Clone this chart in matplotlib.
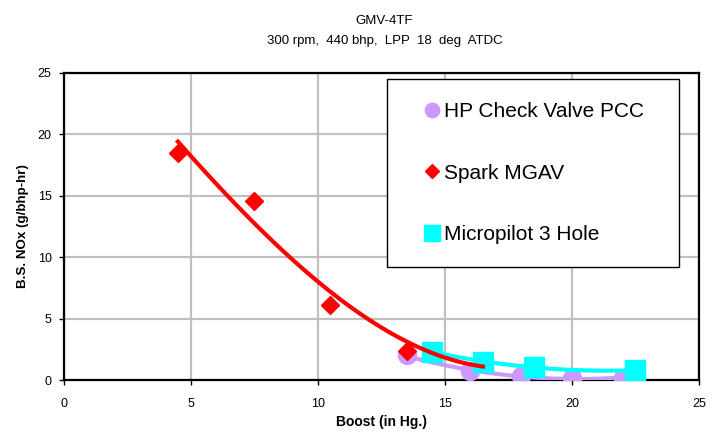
import numpy as np
import matplotlib
matplotlib.use("Agg")
import matplotlib.pyplot as plt

plt.rcParams['font.family'] = ['Liberation Sans', 'DejaVu Sans']

# measured points
hp_x = [13.5, 16.0, 18.0, 20.0, 22.0]
hp_y = [2.0, 0.7, 0.3, 0.2, 0.15]

spark_x = [4.5, 7.5, 10.5, 13.5]
spark_y = [18.5, 14.6, 6.1, 2.4]

micro_x = [14.5, 16.5, 18.5, 22.5]
micro_y = [2.3, 1.5, 1.05, 0.8]

# trend curve samples for the spark series (runs past the last point)
spark_fit_x = [4.6, 6.44, 7.74, 9.04, 10.6, 11.8, 13.6, 15.3, 16.5]
spark_fit_y = [19.0, 15.5, 12.2, 9.5, 6.8, 5.45, 3.0, 1.8, 0.98]

purple = '#cc99ff'
red = '#ff0000'
cyan = '#00ffff'

fig = plt.figure(figsize=(7.16, 4.36), dpi=100)
ax = fig.add_axes([0.0887, 0.1284, 0.8876, 0.7042])

def trend(xs, ys, deg, x0, x1):
    c = np.polyfit(xs, ys, deg)
    t = np.linspace(x0, x1, 100)
    return t, np.polyval(c, t)

t, v = trend(hp_x, hp_y, 2, hp_x[0], hp_x[-1])
ax.plot(t, v, color=purple, lw=3, zorder=3)
ax.plot(hp_x, hp_y, 'o', color=purple, ms=13, mec=purple, zorder=4,
        label='HP Check Valve PCC')

ax.plot(spark_x, spark_y, 'D', color=red, ms=9.5, mec=red, zorder=5,
        label='Spark MGAV')

ax.plot(micro_x, micro_y, 's', color=cyan, ms=15, mec=cyan, zorder=5,
        label='Micropilot 3 Hole')
t, v = trend(micro_x, micro_y, 2, micro_x[0], micro_x[-1])
ax.plot(t, v, color=cyan, lw=3, zorder=6)

t, v = trend(spark_fit_x, spark_fit_y, 3, 4.5, 16.5)
ax.plot(t, v, color=red, lw=3, zorder=7)

ax.set_xlim(0, 25)
ax.set_ylim(0, 25)
ax.set_xticks(range(0, 26, 5))
ax.set_yticks(range(0, 26, 5))
ax.grid(True, color='#c0c0c0', lw=1.6)
ax.set_axisbelow(True)
for s in ax.spines.values():
    s.set_color('black')
    s.set_linewidth(1.6)
ax.tick_params(direction='out', length=3.6, width=1, labelsize=9)
ax.tick_params(axis='x', pad=9)
ax.tick_params(axis='y', pad=5)

ax.set_xlabel('Boost (in Hg.)', fontsize=10, fontweight='bold', labelpad=4)
ax.set_ylabel('B.S. NOx (g/bhp-hr)', fontsize=9.6, fontweight='bold', labelpad=6)

fig.text(0.537, 0.952, 'GMV-4TF', ha='center', va='center', fontsize=9.5)
fig.text(0.537, 0.906, '300 rpm,  440 bhp,  LPP  18  deg  ATDC', ha='center',
         va='center', fontsize=9.5)

leg = ax.legend(loc='upper left', bbox_to_anchor=(0.509, 0.381, 0.4595, 0.599),
                mode='expand', fontsize=15, frameon=True, fancybox=False,
                framealpha=1, edgecolor='black', borderpad=1.1,
                labelspacing=2.05, handlelength=2.09, handletextpad=-0.47,
                markerscale=0.8, numpoints=1, borderaxespad=0)
leg.get_frame().set_linewidth(1.0)
leg.set_zorder(10)

fig.savefig('out.png', dpi=100)
